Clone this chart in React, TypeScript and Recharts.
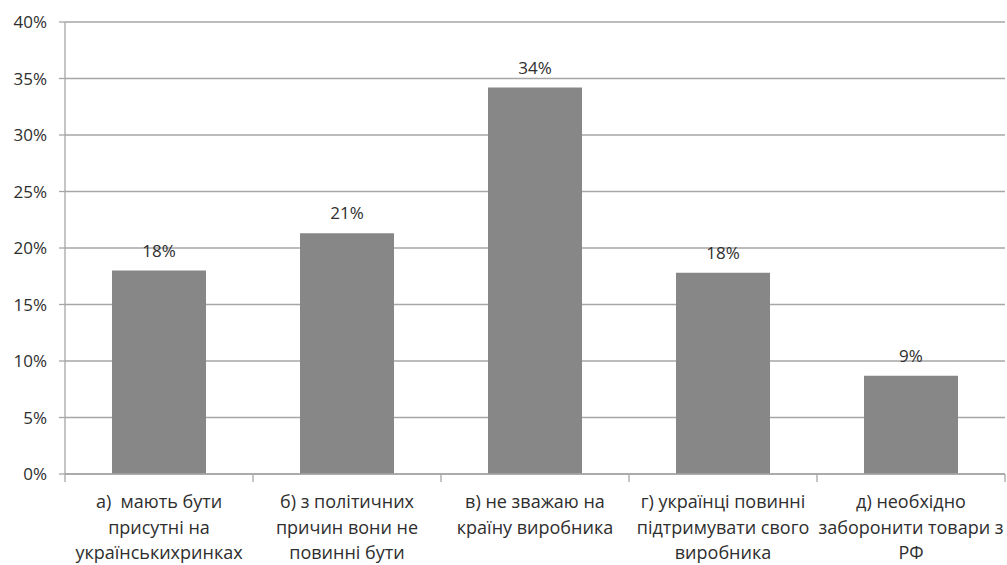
import React from 'react';
import { BarChart, Bar, XAxis, YAxis, CartesianGrid, LabelList } from 'recharts';

const categories = [
  ['а)  мають бути', 'присутні на', 'українськихринках'],
  ['б) з політичних', 'причин вони не', 'повинні бути'],
  ['в) не зважаю на', 'країну виробника'],
  ['г) українці повинні', 'підтримувати свого', 'виробника'],
  ['д) необхідно', 'заборонити товари з', 'РФ'],
];
const shares = [18.0, 21.3, 34.2, 17.8, 8.7];
const yTicks = [0, 5, 10, 15, 20, 25, 30, 35, 40];

const data = categories.map((lines, i) => ({ name: lines.join(' '), lines, value: shares[i] }));

const FONT = '"Open Sans", sans-serif';
const TEXT = '#2e2e2e';
const GRID = '#a6a6a6';

const CategoryTick = (props: any) => {
  const { x, y, payload, index } = props;
  const lines = data[index]?.lines ?? [String(payload.value)];
  const half = payload?.offset || 94;
  return (
    <g>
      <line x1={x - half} x2={x - half} y1={y} y2={y + 8} stroke={GRID} strokeWidth={1.3} />
      {index === data.length - 1 && (
        <line x1={x + half} x2={x + half} y1={y} y2={y + 8} stroke={GRID} strokeWidth={1.3} />
      )}
      <text
        x={x}
        y={y}
        textAnchor="middle"
        fill={TEXT}
        fontFamily={FONT}
        fontSize={18}
        style={{ whiteSpace: 'pre' }}
      >
        {lines.map((l: string, i: number) => (
          <tspan key={i} x={x} y={y + 34 + i * 25.5}>
            {l}
          </tspan>
        ))}
      </text>
    </g>
  );
};

const App: React.FC = () => {
  return (
    <div style={{ position: 'absolute', left: 0, top: 0, width: 1007, height: 565, background: '#fff' }}>
      <BarChart
        width={1007}
        height={565}
        data={data}
        margin={{ top: 22, right: 2, left: 0, bottom: 0 }}
        barCategoryGap="25%"
      >
        <CartesianGrid vertical={false} stroke={GRID} strokeWidth={1.3} />
        <XAxis
          dataKey="name"
          height={91}
          interval={0}
          axisLine={{ stroke: GRID, strokeWidth: 1.3 }}
          tickLine={false}
          tickSize={0}
          tickMargin={0}
          tick={<CategoryTick />}
        />
        <YAxis
          width={65}
          domain={[0, 40]}
          ticks={yTicks}
          interval={0}
          tickFormatter={(v: number) => `${v}%`}
          axisLine={{ stroke: GRID, strokeWidth: 1.3 }}
          tickLine={{ stroke: GRID, strokeWidth: 1.3 }}
          tickSize={6}
          tickMargin={12}
          tick={{ fill: TEXT, fontFamily: FONT, fontSize: 17 }}
        />
        <Bar dataKey="value" fill="#878787" isAnimationActive={false}>
          <LabelList
            dataKey="value"
            position="top"
            offset={14}
            formatter={(v: any) => `${Math.round(Number(v))}%`}
            fill={TEXT}
            fontFamily={FONT}
            fontSize={17}
          />
        </Bar>
      </BarChart>
    </div>
  );
};

export default App;
